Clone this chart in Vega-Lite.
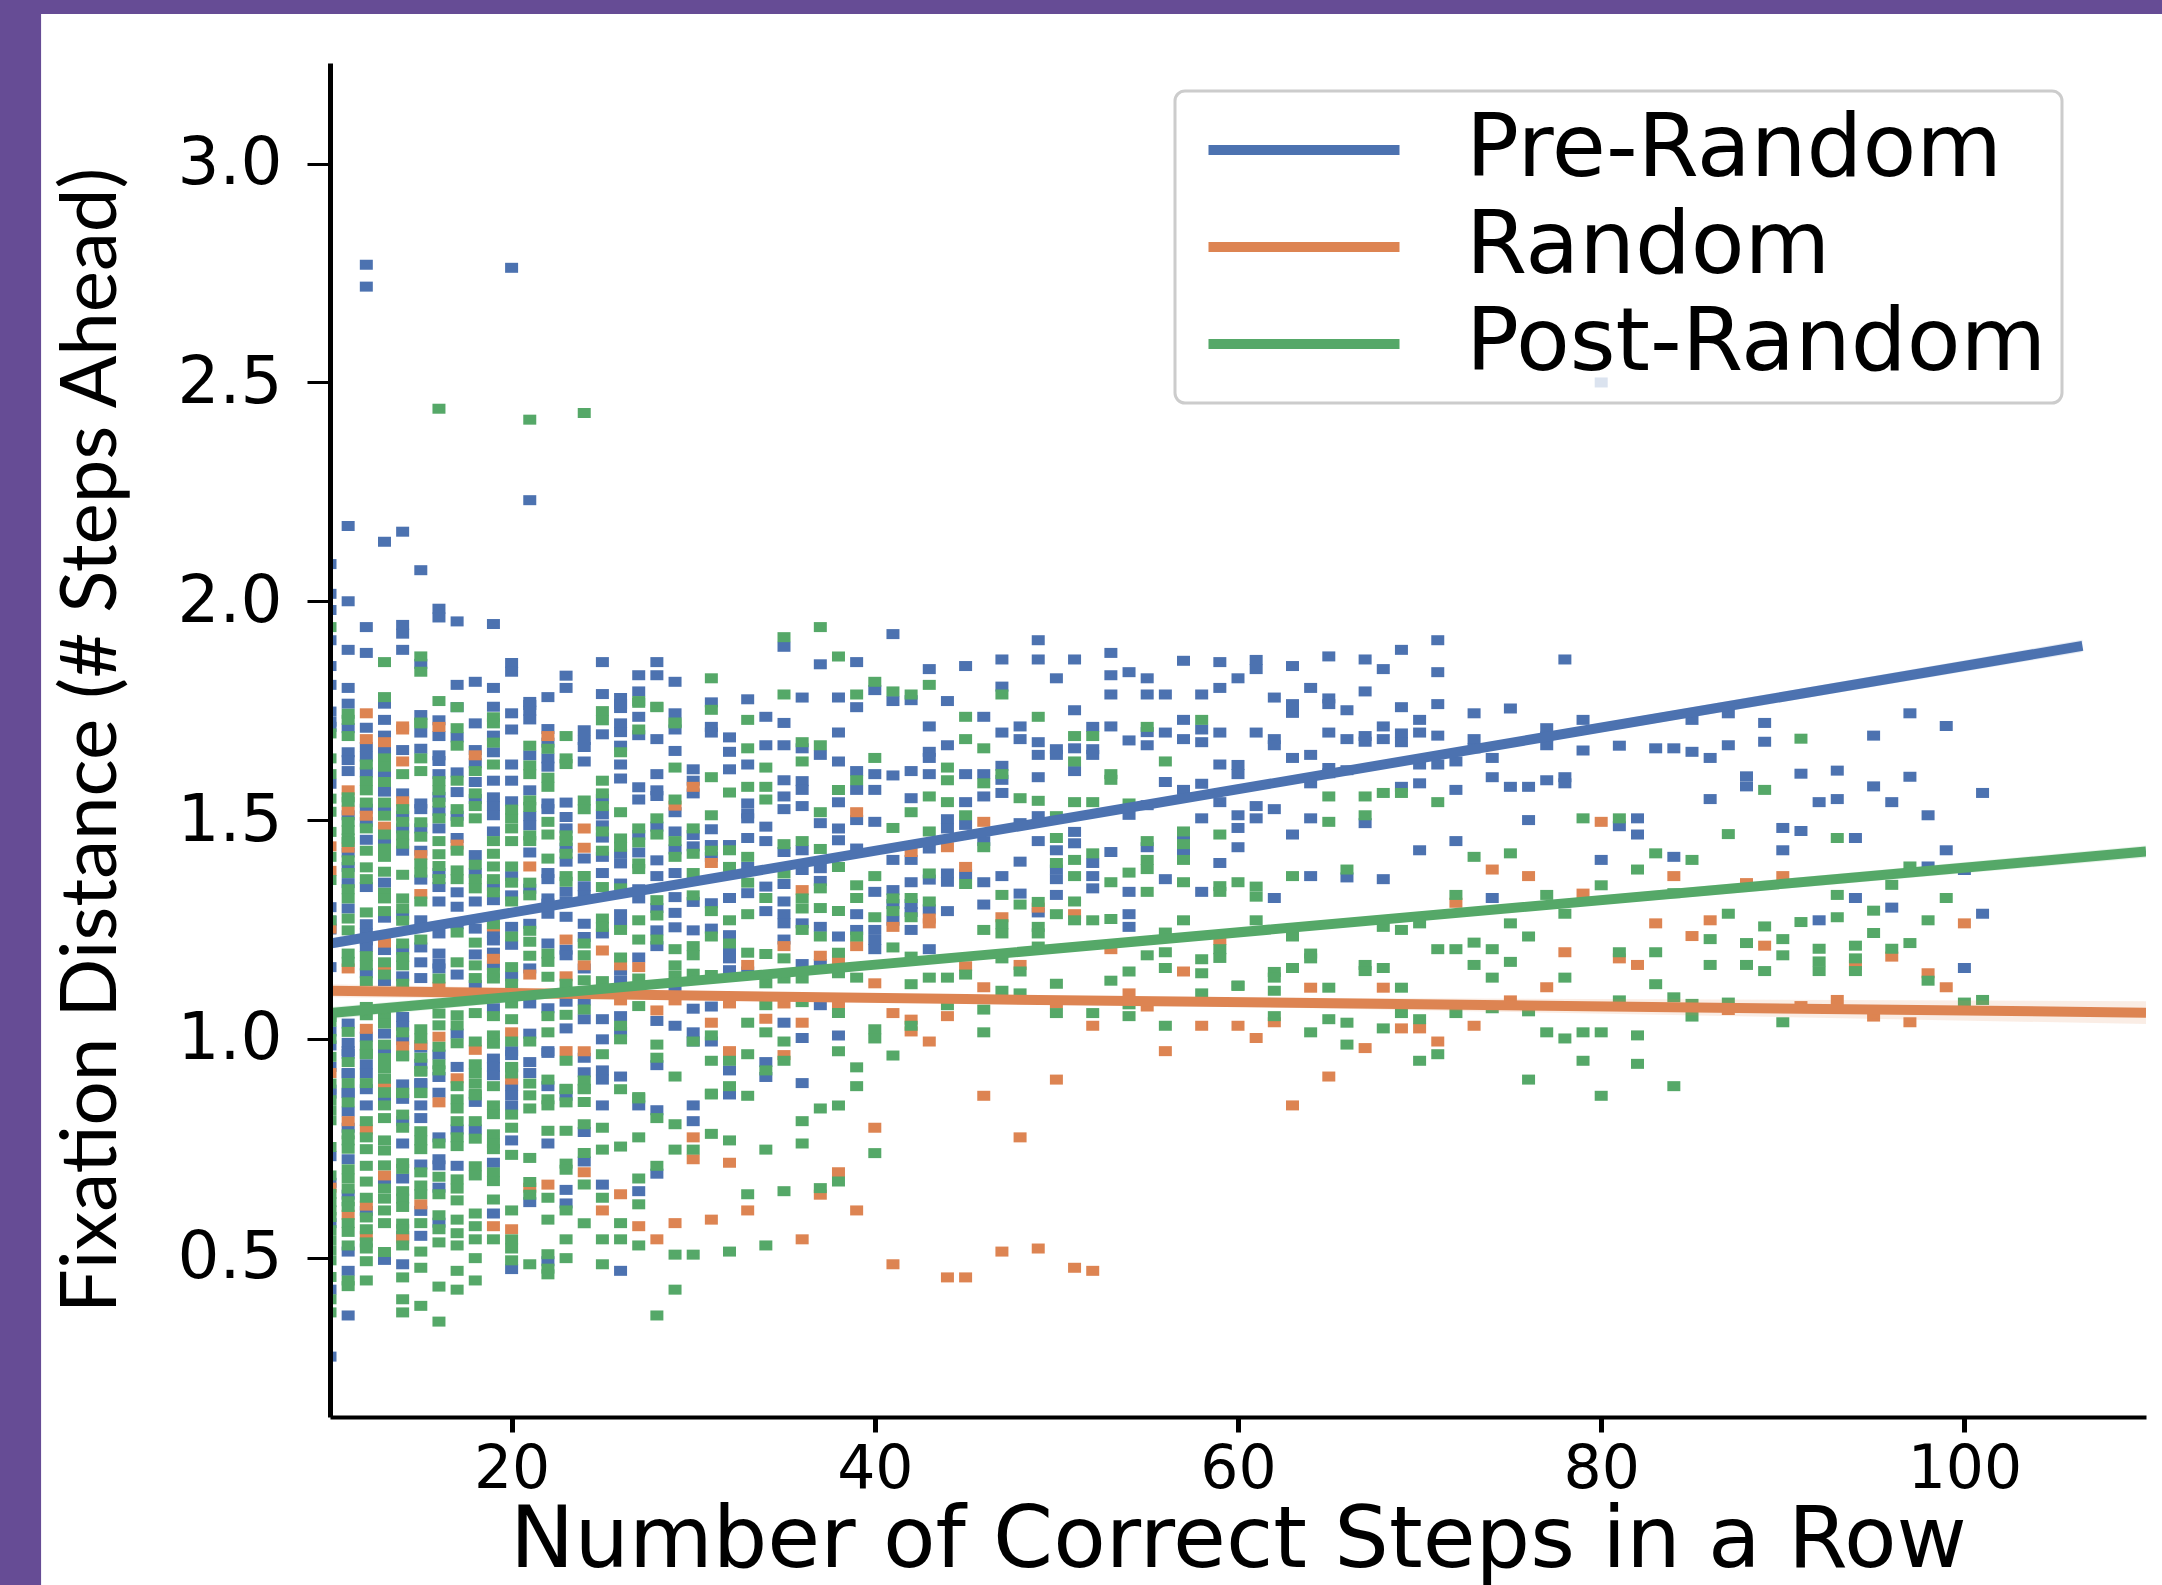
{"$schema":"https://vega.github.io/schema/vega-lite/v6.json","width":1816,"height":1354,"autosize":{"type":"none"},"padding":{"left":330,"top":63,"right":16,"bottom":168},"background":"#664c95","config":{"view":{"stroke":null},"font":"DejaVu Sans"},
"datasets":{
"pre":[{"x":10,"y":2.085},{"x":10,"y":2.017},{"x":10,"y":1.98},{"x":10,"y":1.911},{"x":10,"y":1.852},{"x":10,"y":1.809},{"x":10,"y":1.748},{"x":10,"y":1.725},{"x":10,"y":1.713},{"x":10,"y":1.583},{"x":10,"y":1.301},{"x":10,"y":1.27},{"x":10,"y":1.25},{"x":10,"y":1.164},{"x":10,"y":1.017},{"x":10,"y":0.985},{"x":10,"y":0.936},{"x":10,"y":0.884},{"x":10,"y":0.875},{"x":10,"y":0.732},{"x":10,"y":0.671},{"x":10,"y":0.579},{"x":10,"y":0.427},{"x":10,"y":0.274},
{"x":11,"y":2.172},{"x":11,"y":2.0},{"x":11,"y":1.889},{"x":11,"y":1.802},{"x":11,"y":1.766},{"x":11,"y":1.71},{"x":11,"y":1.655},{"x":11,"y":1.637},{"x":11,"y":1.612},{"x":11,"y":1.511},{"x":11,"y":1.426},{"x":11,"y":1.393},{"x":11,"y":1.356},{"x":11,"y":1.298},{"x":11,"y":1.035},{"x":11,"y":0.991},{"x":11,"y":0.972},{"x":11,"y":0.966},{"x":11,"y":0.922},{"x":11,"y":0.921},{"x":11,"y":0.877},{"x":11,"y":0.876},{"x":11,"y":0.834},{"x":11,"y":0.797},{"x":11,"y":0.725},{"x":11,"y":0.644},{"x":11,"y":0.514},{"x":11,"y":0.47},{"x":11,"y":0.368},
{"x":12,"y":2.769},{"x":12,"y":2.719},{"x":12,"y":1.941},{"x":12,"y":1.882},{"x":12,"y":1.711},{"x":12,"y":1.667},{"x":12,"y":1.645},{"x":12,"y":1.609},{"x":12,"y":1.526},{"x":12,"y":1.496},{"x":12,"y":1.455},{"x":12,"y":1.347},{"x":12,"y":1.262},{"x":12,"y":1.241},{"x":12,"y":1.225},{"x":12,"y":1.21},{"x":12,"y":1.15},{"x":12,"y":1.005},{"x":12,"y":0.942},{"x":12,"y":0.921},{"x":12,"y":0.885},{"x":12,"y":0.848},{"x":12,"y":0.607},
{"x":13,"y":2.136},{"x":13,"y":1.766},{"x":13,"y":1.729},{"x":13,"y":1.693},{"x":13,"y":1.66},{"x":13,"y":1.605},{"x":13,"y":1.565},{"x":13,"y":1.526},{"x":13,"y":1.452},{"x":13,"y":1.357},{"x":13,"y":1.277},{"x":13,"y":1.203},{"x":13,"y":1.132},{"x":13,"y":1.012},{"x":13,"y":0.972},{"x":13,"y":0.863},{"x":13,"y":0.674},{"x":13,"y":0.495},
{"x":14,"y":2.159},{"x":14,"y":1.946},{"x":14,"y":1.926},{"x":14,"y":1.889},{"x":14,"y":1.66},{"x":14,"y":1.561},{"x":14,"y":1.51},{"x":14,"y":1.481},{"x":14,"y":1.43},{"x":14,"y":1.284},{"x":14,"y":1.204},{"x":14,"y":1.143},{"x":14,"y":1.05},{"x":14,"y":1.03},{"x":14,"y":0.997},{"x":14,"y":0.896},{"x":14,"y":0.863},{"x":14,"y":0.812},{"x":14,"y":0.761},{"x":14,"y":0.681},{"x":14,"y":0.55},{"x":14,"y":0.485},
{"x":15,"y":2.071},{"x":15,"y":1.857},{"x":15,"y":1.74},{"x":15,"y":1.7},{"x":15,"y":1.663},{"x":15,"y":1.538},{"x":15,"y":1.525},{"x":15,"y":1.481},{"x":15,"y":1.43},{"x":15,"y":1.364},{"x":15,"y":1.271},{"x":15,"y":1.209},{"x":15,"y":1.175},{"x":15,"y":1.139},{"x":15,"y":0.98},{"x":15,"y":0.943},{"x":15,"y":0.899},{"x":15,"y":0.898},{"x":15,"y":0.848},{"x":15,"y":0.819},{"x":15,"y":0.713},{"x":15,"y":0.607},{"x":15,"y":0.55},
{"x":16,"y":1.983},{"x":16,"y":1.963},{"x":16,"y":1.728},{"x":16,"y":1.692},{"x":16,"y":1.648},{"x":16,"y":1.635},{"x":16,"y":1.605},{"x":16,"y":1.553},{"x":16,"y":1.521},{"x":16,"y":1.481},{"x":16,"y":1.379},{"x":16,"y":1.347},{"x":16,"y":1.314},{"x":16,"y":1.241},{"x":16,"y":1.195},{"x":16,"y":1.172},{"x":16,"y":1.161},{"x":16,"y":0.964},{"x":16,"y":0.913},{"x":16,"y":0.877},{"x":16,"y":0.775},{"x":16,"y":0.725},{"x":16,"y":0.711},{"x":16,"y":0.66},{"x":16,"y":0.58},
{"x":17,"y":1.954},{"x":17,"y":1.809},{"x":17,"y":1.758},{"x":17,"y":1.689},{"x":17,"y":1.609},{"x":17,"y":1.564},{"x":17,"y":1.51},{"x":17,"y":1.459},{"x":17,"y":1.335},{"x":17,"y":1.302},{"x":17,"y":1.262},{"x":17,"y":1.147},{"x":17,"y":1.012},{"x":17,"y":0.936},{"x":17,"y":0.793},{"x":17,"y":0.71},
{"x":18,"y":1.816},{"x":18,"y":1.721},{"x":18,"y":1.66},{"x":18,"y":1.63},{"x":18,"y":1.587},{"x":18,"y":1.548},{"x":18,"y":1.42},{"x":18,"y":1.379},{"x":18,"y":1.314},{"x":18,"y":1.252},{"x":18,"y":1.193},{"x":18,"y":1.123},{"x":18,"y":0.856},{"x":18,"y":0.793},
{"x":19,"y":1.948},{"x":19,"y":1.802},{"x":19,"y":1.759},{"x":19,"y":1.693},{"x":19,"y":1.655},{"x":19,"y":1.59},{"x":19,"y":1.552},{"x":19,"y":1.532},{"x":19,"y":1.511},{"x":19,"y":1.474},{"x":19,"y":1.35},{"x":19,"y":1.317},{"x":19,"y":1.241},{"x":19,"y":1.225},{"x":19,"y":1.197},{"x":19,"y":1.168},{"x":19,"y":1.07},{"x":19,"y":0.955},{"x":19,"y":0.936},{"x":19,"y":0.917},{"x":19,"y":0.717},{"x":19,"y":0.601},
{"x":20,"y":2.762},{"x":20,"y":1.859},{"x":20,"y":1.839},{"x":20,"y":1.744},{"x":20,"y":1.707},{"x":20,"y":1.627},{"x":20,"y":1.59},{"x":20,"y":1.543},{"x":20,"y":1.372},{"x":20,"y":1.328},{"x":20,"y":1.256},{"x":20,"y":1.215},{"x":20,"y":1.143},{"x":20,"y":0.972},{"x":20,"y":0.963},{"x":20,"y":0.892},{"x":20,"y":0.871},{"x":20,"y":0.848},{"x":20,"y":0.768},{"x":20,"y":0.474},
{"x":21,"y":2.231},{"x":21,"y":1.77},{"x":21,"y":1.75},{"x":21,"y":1.73},{"x":21,"y":1.763},{"x":21,"y":1.648},{"x":21,"y":1.568},{"x":21,"y":1.509},{"x":21,"y":1.488},{"x":21,"y":1.426},{"x":21,"y":1.343},{"x":21,"y":1.263},{"x":21,"y":1.161},{"x":21,"y":1.081},{"x":21,"y":1.012},{"x":21,"y":0.947},{"x":21,"y":0.922},{"x":21,"y":0.627},
{"x":22,"y":1.781},{"x":22,"y":1.708},{"x":22,"y":1.677},{"x":22,"y":1.641},{"x":22,"y":1.622},{"x":22,"y":1.538},{"x":22,"y":1.525},{"x":22,"y":1.379},{"x":22,"y":1.365},{"x":22,"y":1.321},{"x":22,"y":1.309},{"x":22,"y":1.286},{"x":22,"y":1.218},{"x":22,"y":1.07},{"x":22,"y":0.972},{"x":22,"y":0.968},{"x":22,"y":0.892},{"x":22,"y":0.761},{"x":22,"y":0.492},
{"x":23,"y":1.83},{"x":23,"y":1.802},{"x":23,"y":1.54},{"x":23,"y":1.507},{"x":23,"y":1.481},{"x":23,"y":1.437},{"x":23,"y":1.405},{"x":23,"y":1.336},{"x":23,"y":1.313},{"x":23,"y":1.279},{"x":23,"y":1.204},{"x":23,"y":1.191},{"x":23,"y":1.085},{"x":23,"y":1.024},{"x":23,"y":0.87},{"x":23,"y":0.655},{"x":23,"y":0.624},
{"x":24,"y":1.705},{"x":24,"y":1.683},{"x":24,"y":1.667},{"x":24,"y":1.634},{"x":24,"y":1.412},{"x":24,"y":1.349},{"x":24,"y":1.328},{"x":24,"y":1.263},{"x":24,"y":1.233},{"x":24,"y":1.161},{"x":24,"y":1.088},{"x":24,"y":1.045},{"x":24,"y":0.957},{"x":24,"y":0.924},{"x":24,"y":0.787},{"x":24,"y":0.72},
{"x":25,"y":1.861},{"x":25,"y":1.788},{"x":25,"y":1.696},{"x":25,"y":1.548},{"x":25,"y":1.513},{"x":25,"y":1.488},{"x":25,"y":1.46},{"x":25,"y":1.416},{"x":25,"y":1.379},{"x":25,"y":1.241},{"x":25,"y":1.045},{"x":25,"y":0.999},{"x":25,"y":0.928},{"x":25,"y":0.907},{"x":25,"y":0.848},{"x":25,"y":0.667},
{"x":26,"y":1.779},{"x":26,"y":1.756},{"x":26,"y":1.765},{"x":26,"y":1.721},{"x":26,"y":1.701},{"x":26,"y":1.67},{"x":26,"y":1.627},{"x":26,"y":1.595},{"x":26,"y":1.423},{"x":26,"y":1.401},{"x":26,"y":1.355},{"x":26,"y":1.285},{"x":26,"y":1.263},{"x":26,"y":1.157},{"x":26,"y":1.134},{"x":26,"y":1.052},{"x":26,"y":1.016},{"x":26,"y":0.914},{"x":26,"y":0.47},
{"x":27,"y":1.831},{"x":27,"y":1.794},{"x":27,"y":1.736},{"x":27,"y":1.694},{"x":27,"y":1.575},{"x":27,"y":1.547},{"x":27,"y":1.466},{"x":27,"y":1.426},{"x":27,"y":1.342},{"x":27,"y":1.321},{"x":27,"y":1.186},{"x":27,"y":0.848},{"x":27,"y":0.652},
{"x":28,"y":1.861},{"x":28,"y":1.831},{"x":28,"y":1.685},{"x":28,"y":1.605},{"x":28,"y":1.568},{"x":28,"y":1.555},{"x":28,"y":1.485},{"x":28,"y":1.408},{"x":28,"y":1.372},{"x":28,"y":1.299},{"x":28,"y":1.248},{"x":28,"y":1.212},{"x":28,"y":1.041},{"x":28,"y":0.94},{"x":28,"y":0.837},{"x":28,"y":0.692},
{"x":29,"y":1.816},{"x":29,"y":1.744},{"x":29,"y":1.707},{"x":29,"y":1.658},{"x":29,"y":1.518},{"x":29,"y":1.474},{"x":29,"y":1.433},{"x":29,"y":1.379},{"x":29,"y":1.324},{"x":29,"y":1.288},{"x":29,"y":1.255},{"x":29,"y":1.119},{"x":29,"y":1.03},
{"x":30,"y":1.616},{"x":30,"y":1.59},{"x":30,"y":1.561},{"x":30,"y":1.466},{"x":30,"y":1.44},{"x":30,"y":1.313},{"x":30,"y":1.248},{"x":30,"y":1.069},{"x":30,"y":1.015},{"x":30,"y":0.994},{"x":30,"y":0.848},{"x":30,"y":0.812},
{"x":31,"y":1.769},{"x":31,"y":1.713},{"x":31,"y":1.7},{"x":31,"y":1.479},{"x":31,"y":1.443},{"x":31,"y":1.416},{"x":31,"y":1.31},{"x":31,"y":1.252},{"x":31,"y":1.074},{"x":31,"y":0.994},
{"x":32,"y":1.689},{"x":32,"y":1.656},{"x":32,"y":1.616},{"x":32,"y":1.443},{"x":32,"y":1.322},{"x":32,"y":1.237},{"x":32,"y":1.204},{"x":32,"y":1.184},{"x":32,"y":1.157},{"x":32,"y":0.928},{"x":32,"y":0.873},
{"x":33,"y":1.776},{"x":33,"y":1.627},{"x":33,"y":1.538},{"x":33,"y":1.515},{"x":33,"y":1.504},{"x":33,"y":1.459},{"x":33,"y":1.393},{"x":33,"y":1.333},{"x":33,"y":1.154},
{"x":34,"y":1.736},{"x":34,"y":1.671},{"x":34,"y":1.485},{"x":34,"y":1.452},{"x":34,"y":1.348},{"x":34,"y":1.292},{"x":34,"y":0.947},{"x":34,"y":0.913},
{"x":35,"y":1.896},{"x":35,"y":1.722},{"x":35,"y":1.671},{"x":35,"y":1.591},{"x":35,"y":1.554},{"x":35,"y":1.525},{"x":35,"y":1.427},{"x":35,"y":1.354},{"x":35,"y":1.314},{"x":35,"y":1.285},{"x":35,"y":1.264},{"x":35,"y":1.227},{"x":35,"y":1.037},
{"x":36,"y":1.78},{"x":36,"y":1.664},{"x":36,"y":1.589},{"x":36,"y":1.569},{"x":36,"y":1.532},{"x":36,"y":1.431},{"x":36,"y":1.386},{"x":36,"y":1.264},{"x":36,"y":1.171},{"x":36,"y":1.002},{"x":36,"y":0.899},
{"x":37,"y":1.856},{"x":37,"y":1.649},{"x":37,"y":1.493},{"x":37,"y":1.39},{"x":37,"y":1.361},{"x":37,"y":1.256},{"x":37,"y":1.171},{"x":37,"y":1.077},
{"x":38,"y":1.78},{"x":38,"y":1.7},{"x":38,"y":1.634},{"x":38,"y":1.541},{"x":38,"y":1.481},{"x":38,"y":1.454},{"x":38,"y":1.234},{"x":38,"y":1.008},
{"x":39,"y":1.861},{"x":39,"y":1.758},{"x":39,"y":1.612},{"x":39,"y":1.569},{"x":39,"y":1.5},{"x":39,"y":1.435},{"x":39,"y":1.285},{"x":39,"y":1.249},
{"x":40,"y":1.797},{"x":40,"y":1.605},{"x":40,"y":1.569},{"x":40,"y":1.496},{"x":40,"y":1.336},{"x":40,"y":1.249},{"x":40,"y":1.226},{"x":40,"y":1.205},
{"x":41,"y":1.925},{"x":41,"y":1.772},{"x":41,"y":1.602},{"x":41,"y":1.409},{"x":41,"y":1.34},{"x":41,"y":1.308},{"x":41,"y":1.27},
{"x":42,"y":1.774},{"x":42,"y":1.612},{"x":42,"y":1.55},{"x":42,"y":1.409},{"x":42,"y":1.358},{"x":42,"y":1.308},{"x":42,"y":1.29},{"x":42,"y":1.249},
{"x":43,"y":1.845},{"x":43,"y":1.714},{"x":43,"y":1.656},{"x":43,"y":1.642},{"x":43,"y":1.605},{"x":43,"y":1.435},{"x":43,"y":1.364},{"x":43,"y":1.296},{"x":43,"y":1.205},
{"x":44,"y":1.772},{"x":44,"y":1.671},{"x":44,"y":1.502},{"x":44,"y":1.481},{"x":44,"y":1.378},{"x":44,"y":1.359},{"x":44,"y":1.292},
{"x":45,"y":1.852},{"x":45,"y":1.605},{"x":45,"y":1.541},{"x":45,"y":1.489},{"x":45,"y":1.376},
{"x":46,"y":1.736},{"x":46,"y":1.605},{"x":46,"y":1.554},{"x":46,"y":1.452},{"x":46,"y":1.358},{"x":46,"y":1.307},
{"x":47,"y":1.867},{"x":47,"y":1.805},{"x":47,"y":1.7},{"x":47,"y":1.624},{"x":47,"y":1.592},{"x":47,"y":1.562},{"x":47,"y":1.372},
{"x":48,"y":1.714},{"x":48,"y":1.685},{"x":48,"y":1.493},{"x":48,"y":1.405},{"x":48,"y":1.332},
{"x":49,"y":1.911},{"x":49,"y":1.867},{"x":49,"y":1.678},{"x":49,"y":1.649},{"x":49,"y":1.598},{"x":49,"y":1.509},{"x":49,"y":1.452},{"x":49,"y":1.289},
{"x":50,"y":1.824},{"x":50,"y":1.662},{"x":50,"y":1.649},{"x":50,"y":1.431},{"x":50,"y":1.387},{"x":50,"y":1.365},{"x":50,"y":1.329},
{"x":51,"y":1.867},{"x":51,"y":1.751},{"x":51,"y":1.664},{"x":51,"y":1.612},{"x":51,"y":1.473},{"x":51,"y":1.447},
{"x":52,"y":1.713},{"x":52,"y":1.662},{"x":52,"y":1.649},{"x":52,"y":1.402},{"x":52,"y":1.372},{"x":52,"y":1.344},
{"x":53,"y":1.882},{"x":53,"y":1.831},{"x":53,"y":1.787},{"x":53,"y":1.714},{"x":53,"y":1.427},
{"x":54,"y":1.838},{"x":54,"y":1.682},{"x":54,"y":1.512},{"x":54,"y":1.336},{"x":54,"y":1.285},{"x":54,"y":1.256},
{"x":55,"y":1.824},{"x":55,"y":1.787},{"x":55,"y":1.701},{"x":55,"y":1.671},{"x":55,"y":1.534},{"x":55,"y":1.438},
{"x":56,"y":1.787},{"x":56,"y":1.7},{"x":56,"y":1.587},{"x":56,"y":1.365},
{"x":57,"y":1.864},{"x":57,"y":1.729},{"x":57,"y":1.685},{"x":57,"y":1.569},{"x":57,"y":1.46},{"x":57,"y":1.427},
{"x":58,"y":1.787},{"x":58,"y":1.707},{"x":58,"y":1.678},{"x":58,"y":1.583},{"x":58,"y":1.504},{"x":58,"y":1.336},
{"x":59,"y":1.861},{"x":59,"y":1.802},{"x":59,"y":1.7},{"x":59,"y":1.627},{"x":59,"y":1.541},{"x":59,"y":1.402},
{"x":60,"y":1.824},{"x":60,"y":1.626},{"x":60,"y":1.605},{"x":60,"y":1.511},{"x":60,"y":1.482},{"x":60,"y":1.438},
{"x":61,"y":1.866},{"x":61,"y":1.845},{"x":61,"y":1.7},{"x":61,"y":1.532},{"x":61,"y":1.504},
{"x":62,"y":1.78},{"x":62,"y":1.685},{"x":62,"y":1.671},{"x":62,"y":1.525},{"x":62,"y":1.322},
{"x":63,"y":1.852},{"x":63,"y":1.765},{"x":63,"y":1.745},{"x":63,"y":1.642},{"x":63,"y":1.467},
{"x":64,"y":1.802},{"x":64,"y":1.649},{"x":64,"y":1.584},{"x":64,"y":1.504},{"x":64,"y":1.372},
{"x":65,"y":1.874},{"x":65,"y":1.778},{"x":65,"y":1.765},{"x":65,"y":1.7},{"x":65,"y":1.619},{"x":65,"y":1.607},
{"x":66,"y":1.751},{"x":66,"y":1.685},{"x":66,"y":1.614},{"x":66,"y":1.369},
{"x":67,"y":1.867},{"x":67,"y":1.794},{"x":67,"y":1.692},{"x":67,"y":1.679},{"x":67,"y":1.493},
{"x":68,"y":1.845},{"x":68,"y":1.714},{"x":68,"y":1.685},{"x":68,"y":1.365},
{"x":69,"y":1.889},{"x":69,"y":1.758},{"x":69,"y":1.698},{"x":69,"y":1.678},{"x":69,"y":1.576},
{"x":70,"y":1.729},{"x":70,"y":1.7},{"x":70,"y":1.627},{"x":70,"y":1.584},{"x":70,"y":1.431},
{"x":71,"y":1.911},{"x":71,"y":1.838},{"x":71,"y":1.765},{"x":71,"y":1.693},{"x":71,"y":1.627},
{"x":72,"y":1.634},{"x":72,"y":1.569},{"x":72,"y":1.452},
{"x":73,"y":1.744},{"x":73,"y":1.685},{"x":73,"y":1.664},
{"x":74,"y":1.642},{"x":74,"y":1.598},{"x":74,"y":1.322},
{"x":75,"y":1.755},{"x":75,"y":1.576},
{"x":76,"y":1.576},{"x":76,"y":1.5},
{"x":77,"y":1.71},{"x":77,"y":1.691},{"x":77,"y":1.671},{"x":77,"y":1.591},
{"x":78,"y":1.867},{"x":78,"y":1.598},{"x":78,"y":1.584},
{"x":79,"y":1.729},{"x":79,"y":1.659},
{"x":80,"y":2.5},{"x":80,"y":1.409},
{"x":81,"y":1.67},{"x":81,"y":1.486},
{"x":82,"y":1.504},{"x":82,"y":1.467},
{"x":83,"y":1.664},
{"x":84,"y":1.664},{"x":84,"y":1.416},
{"x":85,"y":1.729},{"x":85,"y":1.656},
{"x":86,"y":1.642},{"x":86,"y":1.548},
{"x":87,"y":1.744},{"x":87,"y":1.671},
{"x":88,"y":1.6},{"x":88,"y":1.577},
{"x":89,"y":1.722},{"x":89,"y":1.679},
{"x":90,"y":1.482},{"x":90,"y":1.431},
{"x":91,"y":1.606},{"x":91,"y":1.475},
{"x":92,"y":1.541},{"x":92,"y":1.271},
{"x":93,"y":1.613},{"x":93,"y":1.548},
{"x":94,"y":1.459},{"x":94,"y":1.322},
{"x":95,"y":1.693},{"x":95,"y":1.577},
{"x":96,"y":1.541},{"x":96,"y":1.3},
{"x":97,"y":1.744},{"x":97,"y":1.599},
{"x":98,"y":1.511},{"x":98,"y":1.394},
{"x":99,"y":1.715},{"x":99,"y":1.431},
{"x":100,"y":1.386},{"x":100,"y":1.162},
{"x":101,"y":1.562},{"x":101,"y":1.286}],
"rnd":[{"x":10,"y":1.44},{"x":10,"y":1.384},{"x":10,"y":1.252},{"x":10,"y":0.922},{"x":10,"y":0.66},{"x":11,"y":1.568},{"x":11,"y":1.522},{"x":11,"y":1.437},{"x":11,"y":1.161},{"x":11,"y":0.812},{"x":11,"y":0.598},{"x":12,"y":1.744},{"x":12,"y":1.685},{"x":12,"y":1.51},{"x":12,"y":1.023},{"x":12,"y":0.793},{"x":12,"y":0.619},{"x":12,"y":0.55},{"x":13,"y":1.678},{"x":13,"y":1.485},{"x":13,"y":1.22},{"x":13,"y":1.161},{"x":13,"y":0.892},{"x":13,"y":0.688},{"x":14,"y":1.714},{"x":14,"y":1.707},{"x":14,"y":1.634},{"x":14,"y":1.543},{"x":14,"y":0.983},{"x":14,"y":0.544},{"x":15,"y":1.42},{"x":15,"y":1.331},{"x":15,"y":0.986},{"x":15,"y":0.622},{"x":16,"y":1.713},{"x":16,"y":1.119},{"x":16,"y":1.005},{"x":16,"y":0.855},{"x":17,"y":1.444},{"x":17,"y":0.91},{"x":18,"y":1.648},{"x":18,"y":0.975},{"x":19,"y":1.257},{"x":19,"y":1.183},{"x":19,"y":0.572},{"x":20,"y":1.015},{"x":20,"y":0.907},{"x":20,"y":0.565},{"x":21,"y":1.394},{"x":21,"y":1.147},{"x":21,"y":0.66},{"x":22,"y":1.692},{"x":22,"y":0.667},{"x":23,"y":1.227},{"x":23,"y":1.143},{"x":23,"y":0.972},{"x":24,"y":1.481},{"x":24,"y":1.437},{"x":24,"y":1.168},{"x":24,"y":0.972},{"x":24,"y":0.695},{"x":25,"y":1.202},{"x":25,"y":0.608},{"x":26,"y":1.168},{"x":26,"y":1.088},{"x":26,"y":0.645},{"x":27,"y":1.164},{"x":27,"y":0.572},{"x":28,"y":1.065},{"x":28,"y":0.542},{"x":29,"y":1.533},{"x":29,"y":1.088},{"x":29,"y":0.579},{"x":30,"y":1.576},{"x":30,"y":0.775},{"x":30,"y":0.725},{"x":31,"y":1.402},{"x":31,"y":1.037},{"x":31,"y":0.587},{"x":32,"y":1.081},{"x":32,"y":0.972},{"x":32,"y":0.717},{"x":33,"y":1.169},{"x":33,"y":0.608},{"x":34,"y":1.046},{"x":35,"y":1.212},{"x":35,"y":1.081},{"x":35,"y":0.963},{"x":36,"y":1.34},{"x":36,"y":1.037},{"x":36,"y":0.542},{"x":37,"y":1.19},{"x":37,"y":0.644},{"x":38,"y":1.18},{"x":38,"y":1.081},{"x":38,"y":0.695},{"x":39,"y":1.518},{"x":39,"y":1.212},{"x":39,"y":0.608},{"x":40,"y":1.127},{"x":40,"y":0.797},{"x":41,"y":1.256},{"x":41,"y":1.059},{"x":41,"y":0.485},{"x":42,"y":1.427},{"x":42,"y":1.044},{"x":42,"y":1.017},{"x":43,"y":1.275},{"x":43,"y":1.264},{"x":43,"y":0.994},{"x":44,"y":1.438},{"x":44,"y":1.052},{"x":44,"y":0.455},{"x":45,"y":1.393},{"x":45,"y":1.166},{"x":45,"y":0.455},{"x":46,"y":1.496},{"x":46,"y":1.118},{"x":46,"y":0.87},{"x":47,"y":1.278},{"x":47,"y":0.514},{"x":48,"y":1.169},{"x":48,"y":0.775},{"x":49,"y":1.3},{"x":49,"y":0.521},{"x":50,"y":1.081},{"x":50,"y":0.907},{"x":51,"y":1.285},{"x":51,"y":0.477},{"x":52,"y":1.03},{"x":52,"y":0.47},{"x":53,"y":1.205},{"x":54,"y":1.104},{"x":55,"y":1.074},{"x":56,"y":0.972},{"x":57,"y":1.154},{"x":58,"y":1.03},{"x":59,"y":1.226},{"x":60,"y":1.03},{"x":61,"y":1.002},{"x":62,"y":1.038},{"x":63,"y":0.848},{"x":64,"y":1.117},{"x":65,"y":0.914},{"x":67,"y":0.979},{"x":68,"y":1.117},{"x":69,"y":1.024},{"x":70,"y":1.024},{"x":71,"y":0.994},{"x":72,"y":1.311},{"x":73,"y":1.03},{"x":74,"y":1.387},{"x":75,"y":1.088},{"x":76,"y":1.372},{"x":77,"y":1.118},{"x":78,"y":1.198},{"x":79,"y":1.332},{"x":80,"y":1.496},{"x":81,"y":1.184},{"x":82,"y":1.169},{"x":83,"y":1.264},{"x":84,"y":1.372},{"x":85,"y":1.235},{"x":86,"y":1.271},{"x":87,"y":1.066},{"x":88,"y":1.356},{"x":89,"y":1.213},{"x":90,"y":1.372},{"x":91,"y":1.075},{"x":93,"y":1.089},{"x":94,"y":1.169},{"x":95,"y":1.051},{"x":96,"y":1.188},{"x":97,"y":1.038},{"x":98,"y":1.15},{"x":99,"y":1.118},{"x":100,"y":1.264}],
"post":[{"x":10,"y":1.941},{"x":10,"y":1.698},{"x":10,"y":1.641},{"x":10,"y":1.605},{"x":10,"y":1.549},{"x":10,"y":1.519},{"x":10,"y":1.473},{"x":10,"y":1.416},{"x":10,"y":1.363},{"x":10,"y":1.271},{"x":10,"y":1.05},{"x":10,"y":1.039},{"x":10,"y":1.0},{"x":10,"y":0.959},{"x":10,"y":0.898},{"x":10,"y":0.86},{"x":10,"y":0.837},{"x":10,"y":0.814},{"x":10,"y":0.753},{"x":10,"y":0.688},{"x":10,"y":0.646},{"x":10,"y":0.627},{"x":10,"y":0.608},{"x":10,"y":0.593},{"x":10,"y":0.563},{"x":10,"y":0.54},{"x":10,"y":0.517},{"x":10,"y":0.494},{"x":10,"y":0.456},{"x":10,"y":0.405},{"x":10,"y":0.375},
{"x":11,"y":1.743},{"x":11,"y":1.729},{"x":11,"y":1.692},{"x":11,"y":1.552},{"x":11,"y":1.542},{"x":11,"y":1.496},{"x":11,"y":1.477},{"x":11,"y":1.458},{"x":11,"y":1.45},{"x":11,"y":1.408},{"x":11,"y":1.379},{"x":11,"y":1.342},{"x":11,"y":1.321},{"x":11,"y":1.275},{"x":11,"y":1.248},{"x":11,"y":1.195},{"x":11,"y":1.176},{"x":11,"y":1.016},{"x":11,"y":0.947},{"x":11,"y":0.899},{"x":11,"y":0.855},{"x":11,"y":0.782},{"x":11,"y":0.768},{"x":11,"y":0.749},{"x":11,"y":0.702},{"x":11,"y":0.681},{"x":11,"y":0.658},{"x":11,"y":0.629},{"x":11,"y":0.616},{"x":11,"y":0.579},{"x":11,"y":0.559},{"x":11,"y":0.528},{"x":11,"y":0.448},{"x":11,"y":0.435},
{"x":12,"y":1.627},{"x":12,"y":1.589},{"x":12,"y":1.568},{"x":12,"y":1.54},{"x":12,"y":1.481},{"x":12,"y":1.43},{"x":12,"y":1.392},{"x":12,"y":1.365},{"x":12,"y":1.289},{"x":12,"y":1.189},{"x":12,"y":1.168},{"x":12,"y":1.132},{"x":12,"y":1.073},{"x":12,"y":1.054},{"x":12,"y":0.985},{"x":12,"y":0.966},{"x":12,"y":0.899},{"x":12,"y":0.965},{"x":12,"y":0.812},{"x":12,"y":0.775},{"x":12,"y":0.748},{"x":12,"y":0.71},{"x":12,"y":0.674},{"x":12,"y":0.637},{"x":12,"y":0.592},{"x":12,"y":0.565},{"x":12,"y":0.535},{"x":12,"y":0.521},{"x":12,"y":0.492},{"x":12,"y":0.448},
{"x":13,"y":1.861},{"x":13,"y":1.781},{"x":13,"y":1.641},{"x":13,"y":1.622},{"x":13,"y":1.587},{"x":13,"y":1.54},{"x":13,"y":1.51},{"x":13,"y":1.467},{"x":13,"y":1.435},{"x":13,"y":1.416},{"x":13,"y":1.382},{"x":13,"y":1.334},{"x":13,"y":1.321},{"x":13,"y":1.292},{"x":13,"y":1.175},{"x":13,"y":1.147},{"x":13,"y":1.05},{"x":13,"y":1.035},{"x":13,"y":0.987},{"x":13,"y":0.955},{"x":13,"y":0.932},{"x":13,"y":0.909},{"x":13,"y":0.878},{"x":13,"y":0.956},{"x":13,"y":0.936},{"x":13,"y":0.877},{"x":13,"y":0.848},{"x":13,"y":0.819},{"x":13,"y":0.768},{"x":13,"y":0.745},{"x":13,"y":0.711},{"x":13,"y":0.658},{"x":13,"y":0.635},{"x":13,"y":0.608},{"x":13,"y":0.579},{"x":13,"y":0.513},
{"x":14,"y":1.605},{"x":14,"y":1.525},{"x":14,"y":1.496},{"x":14,"y":1.465},{"x":14,"y":1.446},{"x":14,"y":1.375},{"x":14,"y":1.321},{"x":14,"y":1.298},{"x":14,"y":1.27},{"x":14,"y":1.218},{"x":14,"y":1.187},{"x":14,"y":1.168},{"x":14,"y":1.126},{"x":14,"y":1.015},{"x":14,"y":0.962},{"x":14,"y":0.876},{"x":14,"y":0.96},{"x":14,"y":0.877},{"x":14,"y":0.827},{"x":14,"y":0.797},{"x":14,"y":0.716},{"x":14,"y":0.703},{"x":14,"y":0.652},{"x":14,"y":0.635},{"x":14,"y":0.616},{"x":14,"y":0.578},{"x":14,"y":0.565},{"x":14,"y":0.528},{"x":14,"y":0.455},{"x":14,"y":0.405},{"x":14,"y":0.375},
{"x":15,"y":1.874},{"x":15,"y":1.839},{"x":15,"y":1.723},{"x":15,"y":1.721},{"x":15,"y":1.641},{"x":15,"y":1.612},{"x":15,"y":1.495},{"x":15,"y":1.462},{"x":15,"y":1.401},{"x":15,"y":1.38},{"x":15,"y":1.314},{"x":15,"y":1.227},{"x":15,"y":1.022},{"x":15,"y":1.001},{"x":15,"y":0.957},{"x":15,"y":0.925},{"x":15,"y":0.876},{"x":15,"y":0.927},{"x":15,"y":0.877},{"x":15,"y":0.789},{"x":15,"y":0.768},{"x":15,"y":0.748},{"x":15,"y":0.695},{"x":15,"y":0.665},{"x":15,"y":0.645},{"x":15,"y":0.579},{"x":15,"y":0.514},{"x":15,"y":0.477},{"x":15,"y":0.39},
{"x":16,"y":1.772},{"x":16,"y":1.589},{"x":16,"y":1.568},{"x":16,"y":1.54},{"x":16,"y":1.504},{"x":16,"y":1.452},{"x":16,"y":1.422},{"x":16,"y":1.395},{"x":16,"y":1.365},{"x":16,"y":1.138},{"x":16,"y":1.058},{"x":16,"y":1.031},{"x":16,"y":0.982},{"x":16,"y":0.942},{"x":16,"y":0.928},{"x":16,"y":0.761},{"x":16,"y":0.685},{"x":16,"y":0.645},{"x":16,"y":0.597},{"x":16,"y":0.565},{"x":16,"y":0.535},{"x":16,"y":0.434},{"x":16,"y":0.354},
{"x":17,"y":1.758},{"x":17,"y":1.71},{"x":17,"y":1.67},{"x":17,"y":1.59},{"x":17,"y":1.525},{"x":17,"y":1.496},{"x":17,"y":1.43},{"x":17,"y":1.385},{"x":17,"y":1.365},{"x":17,"y":1.243},{"x":17,"y":1.175},{"x":17,"y":1.054},{"x":17,"y":1.031},{"x":17,"y":0.99},{"x":17,"y":0.892},{"x":17,"y":0.862},{"x":17,"y":0.841},{"x":17,"y":0.812},{"x":17,"y":0.775},{"x":17,"y":0.755},{"x":17,"y":0.679},{"x":17,"y":0.658},{"x":17,"y":0.631},{"x":17,"y":0.587},{"x":17,"y":0.556},{"x":17,"y":0.528},{"x":17,"y":0.47},{"x":17,"y":0.427},
{"x":18,"y":1.612},{"x":18,"y":1.561},{"x":18,"y":1.532},{"x":18,"y":1.504},{"x":18,"y":1.398},{"x":18,"y":1.365},{"x":18,"y":1.344},{"x":18,"y":1.22},{"x":18,"y":1.168},{"x":18,"y":1.139},{"x":18,"y":1.059},{"x":18,"y":0.994},{"x":18,"y":0.942},{"x":18,"y":0.921},{"x":18,"y":0.898},{"x":18,"y":0.875},{"x":18,"y":0.871},{"x":18,"y":0.812},{"x":18,"y":0.772},{"x":18,"y":0.709},{"x":18,"y":0.688},{"x":18,"y":0.601},{"x":18,"y":0.572},{"x":18,"y":0.542},{"x":18,"y":0.499},{"x":18,"y":0.448},
{"x":19,"y":1.735},{"x":19,"y":1.721},{"x":19,"y":1.677},{"x":19,"y":1.627},{"x":19,"y":1.452},{"x":19,"y":1.423},{"x":19,"y":1.394},{"x":19,"y":1.365},{"x":19,"y":1.335},{"x":19,"y":1.262},{"x":19,"y":1.151},{"x":19,"y":1.138},{"x":19,"y":1.052},{"x":19,"y":1.008},{"x":19,"y":0.989},{"x":19,"y":0.892},{"x":19,"y":0.848},{"x":19,"y":0.828},{"x":19,"y":0.782},{"x":19,"y":0.761},{"x":19,"y":0.748},{"x":19,"y":0.695},{"x":19,"y":0.675},{"x":19,"y":0.633},{"x":19,"y":0.542},
{"x":20,"y":1.504},{"x":20,"y":1.481},{"x":20,"y":1.524},{"x":20,"y":1.452},{"x":20,"y":1.394},{"x":20,"y":1.357},{"x":20,"y":1.314},{"x":20,"y":1.234},{"x":20,"y":1.164},{"x":20,"y":1.126},{"x":20,"y":1.081},{"x":20,"y":1.045},{"x":20,"y":0.994},{"x":20,"y":0.936},{"x":20,"y":0.921},{"x":20,"y":0.935},{"x":20,"y":0.827},{"x":20,"y":0.797},{"x":20,"y":0.735},{"x":20,"y":0.608},{"x":20,"y":0.542},{"x":20,"y":0.521},{"x":20,"y":0.494},
{"x":21,"y":2.415},{"x":21,"y":1.67},{"x":21,"y":1.625},{"x":21,"y":1.605},{"x":21,"y":1.545},{"x":21,"y":1.53},{"x":21,"y":1.465},{"x":21,"y":1.452},{"x":21,"y":1.357},{"x":21,"y":1.328},{"x":21,"y":1.247},{"x":21,"y":1.222},{"x":21,"y":1.19},{"x":21,"y":0.994},{"x":21,"y":0.898},{"x":21,"y":0.871},{"x":21,"y":0.841},{"x":21,"y":0.728},{"x":21,"y":0.673},{"x":21,"y":0.644},{"x":21,"y":0.485},
{"x":22,"y":1.663},{"x":22,"y":1.597},{"x":22,"y":1.576},{"x":22,"y":1.496},{"x":22,"y":1.467},{"x":22,"y":1.412},{"x":22,"y":1.195},{"x":22,"y":1.176},{"x":22,"y":1.142},{"x":22,"y":1.052},{"x":22,"y":1.015},{"x":22,"y":0.907},{"x":22,"y":0.862},{"x":22,"y":0.848},{"x":22,"y":0.79},{"x":22,"y":0.637},{"x":22,"y":0.587},{"x":22,"y":0.508},{"x":22,"y":0.475},{"x":22,"y":0.462},
{"x":23,"y":1.692},{"x":23,"y":1.641},{"x":23,"y":1.628},{"x":23,"y":1.465},{"x":23,"y":1.452},{"x":23,"y":1.423},{"x":23,"y":1.372},{"x":23,"y":1.359},{"x":23,"y":1.126},{"x":23,"y":1.055},{"x":23,"y":0.95},{"x":23,"y":0.886},{"x":23,"y":0.885},{"x":23,"y":0.855},{"x":23,"y":0.79},{"x":23,"y":0.715},{"x":23,"y":0.701},{"x":23,"y":0.608},{"x":23,"y":0.542},{"x":23,"y":0.499},
{"x":24,"y":2.43},{"x":24,"y":1.545},{"x":24,"y":1.525},{"x":24,"y":1.372},{"x":24,"y":1.218},{"x":24,"y":1.191},{"x":24,"y":1.134},{"x":24,"y":1.067},{"x":24,"y":0.905},{"x":24,"y":0.886},{"x":24,"y":0.885},{"x":24,"y":0.856},{"x":24,"y":0.805},{"x":24,"y":0.739},{"x":24,"y":0.667},{"x":24,"y":0.579},
{"x":25,"y":1.749},{"x":25,"y":1.728},{"x":25,"y":1.59},{"x":25,"y":1.561},{"x":25,"y":1.532},{"x":25,"y":1.474},{"x":25,"y":1.43},{"x":25,"y":1.347},{"x":25,"y":1.275},{"x":25,"y":1.256},{"x":25,"y":1.132},{"x":25,"y":0.965},{"x":25,"y":0.797},{"x":25,"y":0.747},{"x":25,"y":0.637},{"x":25,"y":0.542},{"x":25,"y":0.485},
{"x":26,"y":1.655},{"x":26,"y":1.518},{"x":26,"y":1.458},{"x":26,"y":1.439},{"x":26,"y":1.344},{"x":26,"y":1.249},{"x":26,"y":1.186},{"x":26,"y":1.03},{"x":26,"y":0.999},{"x":26,"y":0.885},{"x":26,"y":0.754},{"x":26,"y":0.579},{"x":26,"y":0.542},
{"x":27,"y":1.772},{"x":27,"y":1.768},{"x":27,"y":1.707},{"x":27,"y":1.481},{"x":27,"y":1.449},{"x":27,"y":1.401},{"x":27,"y":1.388},{"x":27,"y":1.271},{"x":27,"y":1.227},{"x":27,"y":1.138},{"x":27,"y":1.075},{"x":27,"y":0.867},{"x":27,"y":0.864},{"x":27,"y":0.775},{"x":27,"y":0.681},{"x":27,"y":0.622},{"x":27,"y":0.528},
{"x":28,"y":1.759},{"x":28,"y":1.758},{"x":28,"y":1.504},{"x":28,"y":1.467},{"x":28,"y":1.317},{"x":28,"y":1.282},{"x":28,"y":1.227},{"x":28,"y":0.987},{"x":28,"y":0.957},{"x":28,"y":0.819},{"x":28,"y":0.71},{"x":28,"y":0.368},
{"x":29,"y":1.723},{"x":29,"y":1.721},{"x":29,"y":1.62},{"x":29,"y":1.547},{"x":29,"y":1.452},{"x":29,"y":1.416},{"x":29,"y":1.205},{"x":29,"y":1.168},{"x":29,"y":1.145},{"x":29,"y":0.914},{"x":29,"y":0.805},{"x":29,"y":0.747},{"x":29,"y":0.507},{"x":29,"y":0.427},
{"x":30,"y":1.481},{"x":30,"y":1.423},{"x":30,"y":1.379},{"x":30,"y":1.328},{"x":30,"y":1.212},{"x":30,"y":1.191},{"x":30,"y":1.149},{"x":30,"y":0.994},{"x":30,"y":0.747},{"x":30,"y":0.507},
{"x":31,"y":1.824},{"x":31,"y":1.752},{"x":31,"y":1.598},{"x":31,"y":1.511},{"x":31,"y":1.43},{"x":31,"y":1.292},{"x":31,"y":1.234},{"x":31,"y":1.146},{"x":31,"y":1.008},{"x":31,"y":0.95},{"x":31,"y":0.875},{"x":31,"y":0.873},{"x":31,"y":0.783},
{"x":32,"y":1.563},{"x":32,"y":1.431},{"x":32,"y":1.393},{"x":32,"y":1.271},{"x":32,"y":1.218},{"x":32,"y":0.95},{"x":32,"y":0.892},{"x":32,"y":0.768},{"x":32,"y":0.514},
{"x":33,"y":1.729},{"x":33,"y":1.664},{"x":33,"y":1.576},{"x":33,"y":1.416},{"x":33,"y":1.357},{"x":33,"y":1.285},{"x":33,"y":1.197},{"x":33,"y":1.037},{"x":33,"y":0.965},{"x":33,"y":0.87},{"x":33,"y":0.645},
{"x":34,"y":1.62},{"x":34,"y":1.576},{"x":34,"y":1.547},{"x":34,"y":1.322},{"x":34,"y":1.194},{"x":34,"y":1.127},{"x":34,"y":1.077},{"x":34,"y":1.015},{"x":34,"y":0.928},{"x":34,"y":0.747},{"x":34,"y":0.528},
{"x":35,"y":1.918},{"x":35,"y":1.787},{"x":35,"y":1.445},{"x":35,"y":1.378},{"x":35,"y":1.184},{"x":35,"y":1.138},{"x":35,"y":0.994},{"x":35,"y":0.95},{"x":35,"y":0.652},
{"x":36,"y":1.678},{"x":36,"y":1.634},{"x":36,"y":1.452},{"x":36,"y":1.321},{"x":36,"y":1.298},{"x":36,"y":1.249},{"x":36,"y":1.138},{"x":36,"y":1.084},{"x":36,"y":0.812},{"x":36,"y":0.761},
{"x":37,"y":1.941},{"x":37,"y":1.671},{"x":37,"y":1.518},{"x":37,"y":1.434},{"x":37,"y":1.344},{"x":37,"y":1.299},{"x":37,"y":1.234},{"x":37,"y":0.841},{"x":37,"y":0.659},
{"x":38,"y":1.874},{"x":38,"y":1.569},{"x":38,"y":1.393},{"x":38,"y":1.292},{"x":38,"y":1.197},{"x":38,"y":1.15},{"x":38,"y":1.059},{"x":38,"y":0.972},{"x":38,"y":0.848},{"x":38,"y":0.674},
{"x":39,"y":1.787},{"x":39,"y":1.591},{"x":39,"y":1.351},{"x":39,"y":1.322},{"x":39,"y":1.234},{"x":39,"y":1.14},{"x":39,"y":0.935},{"x":39,"y":0.892},
{"x":40,"y":1.816},{"x":40,"y":1.642},{"x":40,"y":1.372},{"x":40,"y":1.278},{"x":40,"y":1.022},{"x":40,"y":1.001},{"x":40,"y":0.739},
{"x":41,"y":1.794},{"x":41,"y":1.482},{"x":41,"y":1.321},{"x":41,"y":1.292},{"x":41,"y":1.209},{"x":41,"y":0.962},
{"x":42,"y":1.787},{"x":42,"y":1.518},{"x":42,"y":1.322},{"x":42,"y":1.278},{"x":42,"y":1.188},{"x":42,"y":1.125},{"x":42,"y":1.03},
{"x":43,"y":1.809},{"x":43,"y":1.554},{"x":43,"y":1.474},{"x":43,"y":1.378},{"x":43,"y":1.314},{"x":43,"y":1.14},
{"x":44,"y":1.62},{"x":44,"y":1.591},{"x":44,"y":1.541},{"x":44,"y":1.14},{"x":44,"y":1.077},
{"x":45,"y":1.736},{"x":45,"y":1.685},{"x":45,"y":1.511},{"x":45,"y":1.354},{"x":45,"y":1.147},
{"x":46,"y":1.664},{"x":46,"y":1.584},{"x":46,"y":1.438},{"x":46,"y":1.249},{"x":46,"y":1.067},{"x":46,"y":1.015},
{"x":47,"y":1.787},{"x":47,"y":1.605},{"x":47,"y":1.329},{"x":47,"y":1.262},{"x":47,"y":1.241},{"x":47,"y":1.184},{"x":47,"y":1.11},
{"x":48,"y":1.55},{"x":48,"y":1.307},{"x":48,"y":1.154},{"x":48,"y":1.104},
{"x":49,"y":1.736},{"x":49,"y":1.544},{"x":49,"y":1.313},{"x":49,"y":1.256},{"x":49,"y":1.241},{"x":49,"y":1.211},
{"x":50,"y":1.509},{"x":50,"y":1.459},{"x":50,"y":1.402},{"x":50,"y":1.285},{"x":50,"y":1.126},{"x":50,"y":1.059},
{"x":51,"y":1.692},{"x":51,"y":1.634},{"x":51,"y":1.541},{"x":51,"y":1.409},{"x":51,"y":1.372},{"x":51,"y":1.314},{"x":51,"y":1.271},
{"x":52,"y":1.692},{"x":52,"y":1.541},{"x":52,"y":1.424},{"x":52,"y":1.271},{"x":52,"y":1.059},
{"x":53,"y":1.605},{"x":53,"y":1.592},{"x":53,"y":1.358},{"x":53,"y":1.274},{"x":53,"y":1.133},
{"x":54,"y":1.538},{"x":54,"y":1.38},{"x":54,"y":1.154},{"x":54,"y":1.079},{"x":54,"y":1.052},
{"x":55,"y":1.713},{"x":55,"y":1.452},{"x":55,"y":1.409},{"x":55,"y":1.388},{"x":55,"y":1.336},{"x":55,"y":1.191},
{"x":56,"y":1.634},{"x":56,"y":1.243},{"x":56,"y":1.198},{"x":56,"y":1.162},{"x":56,"y":1.03},
{"x":57,"y":1.474},{"x":57,"y":1.445},{"x":57,"y":1.409},{"x":57,"y":1.358},{"x":57,"y":1.271},
{"x":58,"y":1.729},{"x":58,"y":1.182},{"x":58,"y":1.15},{"x":58,"y":1.104},
{"x":59,"y":1.467},{"x":59,"y":1.349},{"x":59,"y":1.336},{"x":59,"y":1.205},{"x":59,"y":1.185},
{"x":60,"y":1.358},{"x":60,"y":1.122},{"x":60,"y":1.121},
{"x":61,"y":1.348},{"x":61,"y":1.325},{"x":61,"y":1.271},
{"x":62,"y":1.153},{"x":62,"y":1.14},{"x":62,"y":1.11},{"x":62,"y":1.052},
{"x":63,"y":1.372},{"x":63,"y":1.234},{"x":63,"y":1.162},
{"x":64,"y":1.195},{"x":64,"y":1.184},{"x":64,"y":1.015},
{"x":65,"y":1.554},{"x":65,"y":1.496},{"x":65,"y":1.117},{"x":65,"y":1.045},
{"x":66,"y":1.387},{"x":66,"y":1.037},{"x":66,"y":0.987},
{"x":67,"y":1.554},{"x":67,"y":1.511},{"x":67,"y":1.169},{"x":67,"y":1.155},
{"x":68,"y":1.562},{"x":68,"y":1.256},{"x":68,"y":1.162},{"x":68,"y":1.024},
{"x":69,"y":1.562},{"x":69,"y":1.249},{"x":69,"y":1.117},{"x":69,"y":1.059},
{"x":70,"y":1.264},{"x":70,"y":1.045},{"x":70,"y":0.95},
{"x":71,"y":1.541},{"x":71,"y":1.205},{"x":71,"y":0.965},
{"x":72,"y":1.329},{"x":72,"y":1.205},{"x":72,"y":1.059},
{"x":73,"y":1.416},{"x":73,"y":1.22},{"x":73,"y":1.169},
{"x":74,"y":1.205},{"x":74,"y":1.14},{"x":74,"y":1.07},
{"x":75,"y":1.424},{"x":75,"y":1.264},{"x":75,"y":1.176},
{"x":76,"y":1.234},{"x":76,"y":1.063},{"x":76,"y":0.907},
{"x":77,"y":1.329},{"x":77,"y":1.015},
{"x":78,"y":1.286},{"x":78,"y":1.14},{"x":78,"y":1.001},
{"x":79,"y":1.504},{"x":79,"y":1.015},{"x":79,"y":0.95},
{"x":80,"y":1.351},{"x":80,"y":1.015},{"x":80,"y":0.87},
{"x":81,"y":1.504},{"x":81,"y":1.198},{"x":81,"y":1.088},
{"x":82,"y":1.387},{"x":82,"y":1.008},{"x":82,"y":0.943},
{"x":83,"y":1.424},{"x":83,"y":1.198},{"x":83,"y":1.125},
{"x":84,"y":1.333},{"x":84,"y":1.095},{"x":84,"y":0.892},
{"x":85,"y":1.409},{"x":85,"y":1.08},{"x":85,"y":1.051},
{"x":86,"y":1.228},{"x":86,"y":1.169},
{"x":87,"y":1.468},{"x":87,"y":1.286},{"x":87,"y":1.083},
{"x":88,"y":1.219},{"x":88,"y":1.169},
{"x":89,"y":1.569},{"x":89,"y":1.257},{"x":89,"y":1.155},
{"x":90,"y":1.228},{"x":90,"y":1.191},{"x":90,"y":1.038},
{"x":91,"y":1.686},{"x":91,"y":1.267},
{"x":92,"y":1.206},{"x":92,"y":1.177},{"x":92,"y":1.155},
{"x":93,"y":1.459},{"x":93,"y":1.329},{"x":93,"y":1.278},
{"x":94,"y":1.213},{"x":94,"y":1.184},{"x":94,"y":1.155},
{"x":95,"y":1.293},{"x":95,"y":1.242},
{"x":96,"y":1.352},{"x":96,"y":1.206},
{"x":97,"y":1.394},{"x":97,"y":1.219},
{"x":98,"y":1.271},{"x":98,"y":1.133},
{"x":99,"y":1.322},
{"x":100,"y":1.083},
{"x":101,"y":1.089},
{"x":16,"y":2.44}],
"fits":[{"phase":"Pre-Random","x":10,"y":1.218,"lo":1.206,"hi":1.23},{"phase":"Pre-Random","x":45,"y":1.465,"lo":1.459,"hi":1.471},{"phase":"Pre-Random","x":106.5,"y":1.898,"lo":1.884,"hi":1.912},{"phase":"Random","x":10,"y":1.11,"lo":1.095,"hi":1.125},{"phase":"Random","x":45,"y":1.091,"lo":1.085,"hi":1.097},{"phase":"Random","x":110,"y":1.06,"lo":1.034,"hi":1.086},{"phase":"Post-Random","x":10,"y":1.059,"lo":1.045,"hi":1.073},{"phase":"Post-Random","x":45,"y":1.188,"lo":1.182,"hi":1.194},{"phase":"Post-Random","x":110,"y":1.428,"lo":1.414,"hi":1.442}]},
"layer":[
{"data":{"values":[{"a":1}]},"mark":{"type":"rect","fill":"white","clip":false},"encoding":{"x":{"datum":-5.91,"type":"quantitative","scale":{"domain":[10,110],"nice":false,"zero":false}},"x2":{"datum":111},"y":{"datum":3.342,"type":"quantitative","scale":{"domain":[0.136,3.23],"nice":false,"zero":false}},"y2":{"datum":-0.25}}},
{"data":{"name":"pre"},"mark":{"type":"rect","width":13,"height":10,"clip":true},"encoding":{"x":{"field":"x","type":"quantitative","scale":{"domain":[10,110],"nice":false,"zero":false},"axis":{"title":"Number of Correct Steps in a Row","values":[20,40,60,80,100],"zindex":1,"grid":false,"domainColor":"black","domainWidth":4,"tickColor":"black","tickWidth":5,"tickSize":15,"labelColor":"black","labelFont":"DejaVu Sans","labelFontSize":60,"labelPadding":8,"labelFlush":false,"titleColor":"black","titleFont":"DejaVu Sans","titleFontWeight":"normal","titleFontSize":86,"titleX":908,"titleY":149,"titleBaseline":"alphabetic"}},"y":{"field":"y","type":"quantitative","scale":{"domain":[0.136,3.23],"nice":false,"zero":false},"axis":{"title":"Fixation Distance (# Steps Ahead)","values":[0.5,1.0,1.5,2.0,2.5,3.0],"format":".1f","zindex":1,"grid":false,"domainColor":"black","domainWidth":5,"tickColor":"black","tickWidth":3,"tickSize":23,"labelColor":"black","labelFont":"DejaVu Sans","labelFontSize":66,"labelPadding":25,"titleColor":"black","titleFont":"Lato","titleFontWeight":"normal","titleFontSize":78,"titleX":-215,"titleY":677,"titleBaseline":"alphabetic"}},"color":{"datum":"Pre-Random","scale":{"domain":["Pre-Random","Random","Post-Random"],"range":["#4c72b0","#dd8452","#55a868"]}}}},
{"data":{"name":"rnd"},"mark":{"type":"rect","width":13,"height":10,"clip":true},"encoding":{"x":{"field":"x","type":"quantitative"},"y":{"field":"y","type":"quantitative"},"color":{"datum":"Random"}}},
{"data":{"name":"post"},"mark":{"type":"rect","width":13,"height":10,"clip":true},"encoding":{"x":{"field":"x","type":"quantitative"},"y":{"field":"y","type":"quantitative"},"color":{"datum":"Post-Random"}}},
{"data":{"name":"fits"},"mark":{"type":"area","opacity":0.15,"clip":true},"encoding":{"x":{"field":"x","type":"quantitative"},"y":{"field":"lo","type":"quantitative"},"y2":{"field":"hi"},"color":{"field":"phase"}}},
{"data":{"name":"fits"},"mark":{"type":"line","strokeWidth":10,"clip":true},"encoding":{"x":{"field":"x","type":"quantitative"},"y":{"field":"y","type":"quantitative"},"color":{"field":"phase","type":"nominal","legend":{"title":null,"orient":"none","legendX":845,"legendY":28,"direction":"vertical","symbolType":"M-5.306,0H5.306","symbolSize":1296,"symbolStrokeWidth":10,"symbolOpacity":1,"labelFont":"DejaVu Sans","labelFontSize":88,"labelLimit":900,"labelColor":"black","labelOffset":118,"rowPadding":9,"padding":15,"symbolOffset":70,"fillColor":"rgba(255,255,255,0.8)","strokeColor":"#cccccc","cornerRadius":10,"encode":{"legend":{"update":{"strokeWidth":{"value":3}}}}}}}}
]}
